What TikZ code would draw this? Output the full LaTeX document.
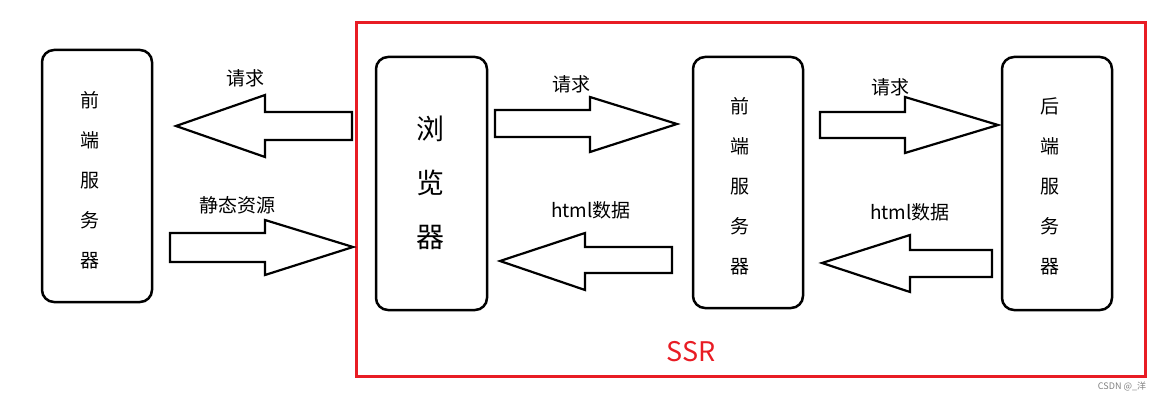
\documentclass[tikz,border=0pt]{standalone}
\usepackage{fontspec}
\setmainfont{Noto Sans CJK SC}
\definecolor{ssrred}{RGB}{232,28,36}
\begin{document}
\begin{tikzpicture}[x=1pt,y=-1pt,
  box/.style={draw,line width=2.5pt,rounded corners=12pt},
  blk/.style={draw,line width=2.2pt,fill=white,line join=miter},
  lbl/.style={font=\fontsize{19}{19}\selectfont},
  vt/.style={font=\fontsize{19}{40}\selectfont,align=center}]
\useasboundingbox (0,0) rectangle (1168,401);
\draw[ssrred,line width=3pt] (356,23) rectangle (1145,376);
\draw[box] (42,50) rectangle (152,302);
\draw[box] (376,57) rectangle (487,310);
\draw[box] (693,57) rectangle (803,308);
\draw[box] (1002,57) rectangle (1112,310);
\node[vt] (fe) at (90,180) {前\\端\\服\\务\\器};
\node[font=\fontsize{28}{54}\selectfont,align=center] (br) at (430,183) {浏\\览\\器};
\node[vt] (fs) at (740,186) {前\\端\\服\\务\\器};
\node[vt] (bs) at (1050,186) {后\\端\\服\\务\\器};
% arrows
\draw[blk] (352,112)--(265,112)--(265,95)--(176,126)--(265,157)--(265,140)--(352,140)--cycle;
\draw[blk] (170,233)--(265,233)--(265,220)--(353,247)--(265,275)--(265,262)--(170,262)--cycle;
\draw[blk] (495,110)--(590,110)--(590,97)--(677,124)--(590,152)--(590,137)--(495,137)--cycle;
\draw[blk] (672,247)--(585,247)--(585,233)--(500,261)--(585,290)--(585,273)--(672,273)--cycle;
\draw[blk] (820,112)--(905,112)--(905,97)--(998,125)--(905,153)--(905,138)--(820,138)--cycle;
\draw[blk] (992,250)--(910,250)--(910,235)--(822,263)--(910,292)--(910,277)--(992,277)--cycle;
\node[lbl] (l1) at (245,78) {请求};
\node[lbl] (l2) at (237,205) {静态资源};
\node[lbl] (l3) at (571,84) {请求};
\node[lbl] (l4) at (591,210) {html数据};
\node[lbl] (l5) at (890,87) {请求};
\node[lbl] (l6) at (910,212) {html数据};
\node[text=ssrred,font=\fontsize{27}{27}\selectfont] (ssr) at (691,352) {SSR};
\node[text=gray,font=\fontsize{9}{9}\selectfont] (wm) at (1122,386) {CSDN @\_洋};
\end{tikzpicture}
\end{document}
